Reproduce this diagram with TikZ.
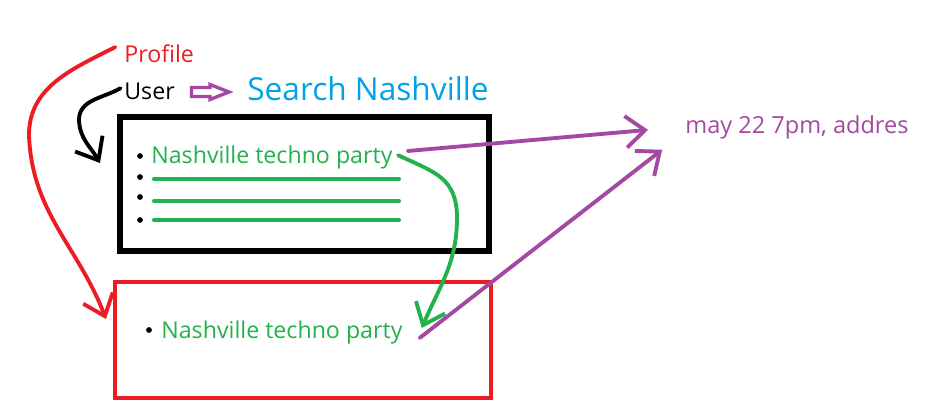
\documentclass[tikz,border=0pt]{standalone}
\usepackage{fontspec}
\setmainfont{Open Sans}
\usetikzlibrary{arrows.meta}
\definecolor{pred}{RGB}{237,28,36}
\definecolor{pgreen}{RGB}{34,177,76}
\definecolor{ppurple}{RGB}{163,73,164}
\definecolor{pblue}{RGB}{0,162,232}
\begin{document}
\begin{tikzpicture}[x=0.02cm,y=-0.02cm,
    txt/.style={anchor=base west, inner sep=0pt, font=\fontsize{13.2}{15}\selectfont},
    pen/.style={line width=2.2pt, line cap=round, line join=round, -{Straight Barb[length=11pt,width=18pt]}},
    listline/.style={line width=2.3pt, pgreen, line cap=round},
    dot/.style={circle, fill=black, inner sep=0pt, minimum size=3.3pt}]
    \useasboundingbox (0,0) rectangle (950,416);
    \draw[line width=3.1pt] (120,117) rectangle (489,251);
    \draw[pred, line width=2.6pt] (115,282) rectangle (491,398);
    \node[txt, pred] (profile) at (124,62) {Profile};
    \node[txt] (user) at (124,99) {User};
    \node[txt, pblue, font=\fontsize{18}{21}\selectfont] (search) at (247,100) {Search Nashville};
    \draw[ppurple, line width=1.9pt, line join=miter] (191.5,87.5) -- (210,87.5) -- (210,84.5) -- (229,92) -- (210,99.5) -- (210,96.5) -- (191.5,96.5) -- cycle;
    \node[dot] (b0) at (140,156) {};
    \node[txt, pgreen] (item) at (151,163) {Nashville techno party};
    \foreach \by/\ly [count=\i] in {177/179, 197/201, 220/220} {
        \node[dot] (b\i) at (140,\by) {};
        \draw[listline] (154,\ly) -- (399,\ly);
    }
    \node[dot] (s0) at (149,330) {};
    \node[txt, pgreen] (saved) at (161,338) {Nashville techno party};
    \node[txt, ppurple, font=\fontsize{13.4}{15}\selectfont] (date) at (685,133) {may 22 7pm, addres};
    \coordinate (tipP) at (106,319);
    \coordinate (tipU) at (100,163);
    \draw[pen, pred] ([xshift=-5pt,yshift=3.5pt]profile.west) to[out=207,in=90] (29,135) to[out=-88,in=111] (tipP);
    \draw[pen] ([xshift=-2pt,yshift=1.5pt]user.west) to[out=210,in=90] (79,120) to[out=-88,in=120] (tipU);
    \draw[pen, pgreen] ([xshift=3pt,yshift=1pt]item.east) to[out=-25,in=90,looseness=1.2] (457,218) to[out=-90,in=67] ([xshift=10.8pt,yshift=2.3pt]saved.east);
    \draw[pen, ppurple] ([xshift=8.5pt,yshift=3.4pt]item.east) -- ([xshift=-21pt,yshift=-1.7pt]date.west);
    \draw[pen, ppurple] ([xshift=9.6pt,yshift=-3.4pt]saved.east) -- ([xshift=-13pt,yshift=-13pt]date.west);
\end{tikzpicture}
\end{document}
